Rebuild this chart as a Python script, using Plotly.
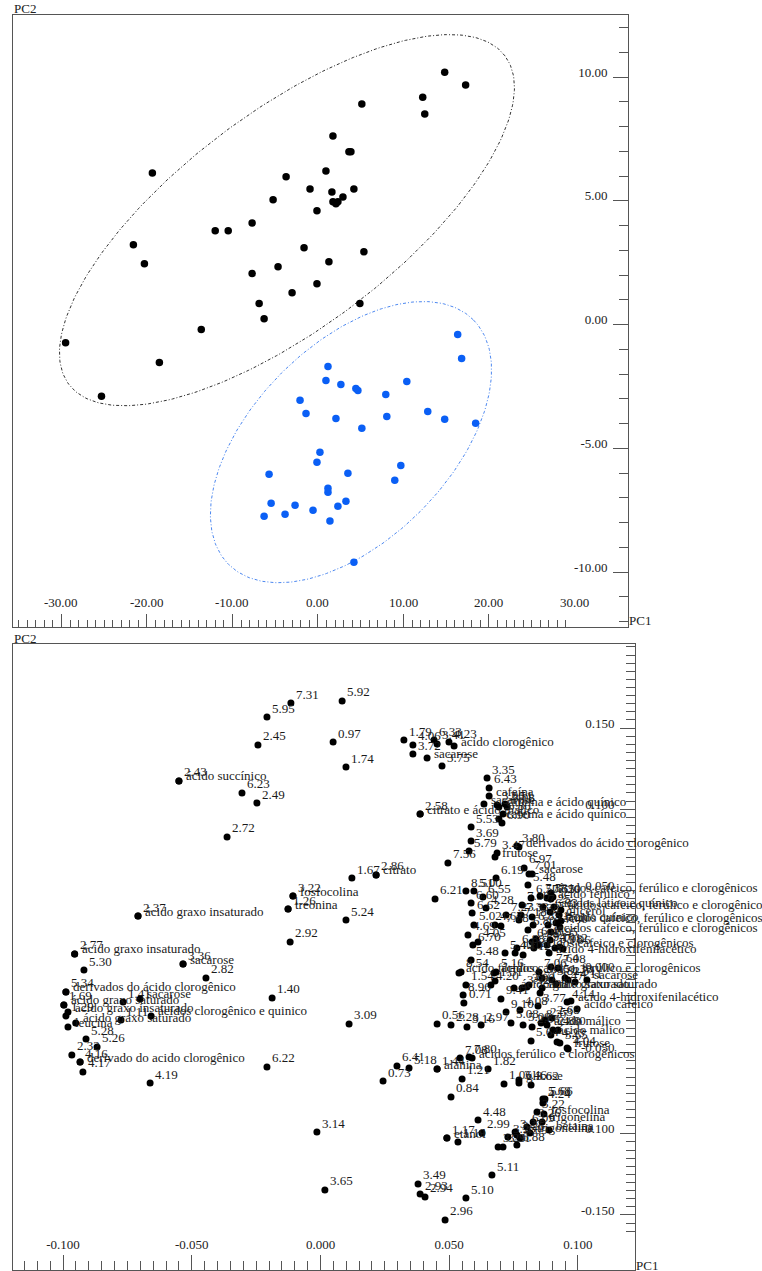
import math
import plotly.graph_objects as go

W, H = 762, 1271
FONT = "Liberation Serif, Times New Roman, serif"
AXC = "#555555"
TXT = "#222222"

# ---------------- scores plot (top) ----------------
grp1_pc1 = [14.82, 17.27, 12.25, 12.49, 5.13, 1.75, 3.62, 3.85, 0.93, -3.73,
            -0.93, 1.63, 4.20, 2.92, 1.75, 2.10, 2.33, -5.25, -0.12, -19.37,
            -7.70, -12.02, -10.50, -21.59, -20.30, -1.63, 5.37, 1.28, -7.70, -4.67,
            -0.12, -3.03, -6.88, 4.90, -6.30, -13.65, -29.52, -18.55, -25.32]
grp1_pc2 = [10.20, 9.68, 9.19, 8.51, 8.91, 7.62, 6.98, 6.98, 6.21, 5.97,
            5.48, 5.36, 5.48, 5.16, 4.96, 4.88, 4.96, 5.04, 4.60, 6.13,
            4.11, 3.79, 3.79, 3.23, 2.46, 3.10, 2.94, 2.54, 2.06, 2.34,
            1.65, 1.29, 0.85, 0.85, 0.24, -0.20, -0.73, -1.53, -2.90]
grp2_pc1 = [1.17, 0.93, 2.68, 4.43, 4.67, -2.10, -1.40, 2.10, 5.13, 0.23,
            -0.12, -5.72, 3.50, 1.17, 1.17, -5.48, 3.27, -2.68, 2.33, -0.58,
            -6.30, -3.85, 1.40, 4.20, 16.34, 16.80, 10.39, 7.93, 8.05, 12.84,
            14.82, 18.44, 9.69, 8.98]
grp2_pc2 = [-1.69, -2.26, -2.42, -2.58, -2.66, -3.06, -3.59, -3.79, -4.19, -5.16,
            -5.56, -6.05, -6.01, -6.61, -6.77, -7.22, -7.14, -7.30, -7.34, -7.50,
            -7.74, -7.66, -7.94, -9.60, -0.40, -1.37, -2.30, -2.82, -3.71, -3.51,
            -3.83, -3.99, -5.69, -6.29]

score_xticks = [-30, -20, -10, 0, 10, 20, 30]
score_xtext = ["-30.00", "-20.00", "-10.00", "0.00", "10.00", "20.00", "30.00"]
score_yticks = [-10, -5, 0, 5, 10]
score_ytext = ["-10.00", "-5.00", "0.00", "5.00", "10.00"]

# ---------------- loadings plot (bottom) ----------------
CFC = "ácidos cafeico, ferúlico e clorogênicos"

spread_x = [-0.0115, 0.0084, -0.0208, -0.0243, 0.0049, 0.0099, -0.0550, -0.0550, -0.0305, -0.0247,
            -0.0363, 0.0122, 0.0216, 0.0216, -0.0107, -0.0107, -0.0126, -0.0126, 0.0099, -0.0709,
            -0.0709, -0.0118, -0.0955, -0.0955, -0.0919, -0.0534, -0.0534, -0.0445, -0.0989, -0.0989,
            -0.0188, -0.0997, -0.0997, -0.0767, -0.0701, -0.0981, -0.0989, -0.0951, -0.0981, -0.0775,
            -0.0658, -0.0911, -0.0868, -0.0966, -0.0934, -0.0934, -0.0923, -0.0662, -0.0208, 0.0111,
            -0.0014, 0.0017]
spread_y = [0.1654, 0.1667, 0.1568, 0.1396, 0.1414, 0.1260, 0.1174, 0.1174, 0.1100, 0.1038,
            0.0829, 0.0576, 0.0595, 0.0595, 0.0465, 0.0465, 0.0385, 0.0385, 0.0317, 0.0342,
            0.0342, 0.0182, 0.0108, 0.0108, 0.0009, 0.0046, 0.0046, -0.0040, -0.0126, -0.0126,
            -0.0163, -0.0206, -0.0206, -0.0188, -0.0169, -0.0250, -0.0274, -0.0317, -0.0342, -0.0299,
            -0.0274, -0.0416, -0.0465, -0.0514, -0.0558, -0.0558, -0.0619, -0.0687, -0.0588, -0.0323,
            -0.0989, -0.1346]
spread_lbl = ["7.31", "5.92", "5.95", "2.45", "0.97", "1.74", "2.43", "ácido succínico", "6.23", "2.49",
              "2.72", "1.67", "2.86", "citrato", "3.22", "fosfocolina", "1.26", "treonina", "5.24", "2.37",
              "ácido graxo insaturado", "2.92", "2.77", "ácido graxo insaturado", "5.30", "3.36", "sacarose", "2.82", "5.34", "derivados do ácido clorogênico",
              "1.40", "1.69", "ácido graxo saturado", "1.41", "sacarose", "ácido graxo insaturado", "1.29", "ácido graxo saturado", "leucina", "1.11",
              "ácidos clorogênico e quinico", "5.28", "5.26", "2.32", "4.16", "derivado do acido clorogênico", "4.17", "4.19", "6.22", "3.09",
              "3.14", "3.65"]

upper_x = [0.0324, 0.0359, 0.0359, 0.0414, 0.0441, 0.0453, 0.0499, 0.0519, 0.0472, 0.0647,
           0.0655, 0.0655, 0.0635, 0.0693, 0.0686, 0.0717, 0.0725, 0.0387, 0.0387, 0.0709,
           0.0693, 0.0705, 0.0585, 0.0585, 0.0577, 0.0495, 0.0678, 0.0686, 0.0763, 0.0771,
           0.0791, 0.0810, 0.0822, 0.0806, 0.0682]
upper_y = [0.1426, 0.1396, 0.1340, 0.1315, 0.1426, 0.1402, 0.1414, 0.1389, 0.1266, 0.1192,
           0.1131, 0.1081, 0.1032, 0.1014, 0.1026, 0.1032, 0.1014, 0.0970, 0.0970, 0.0970,
           0.0940, 0.0915, 0.0890, 0.0804, 0.0742, 0.0669, 0.0705, 0.0730, 0.0773, 0.0767,
           0.0638, 0.0601, 0.0601, 0.0533, 0.0576]
upper_lbl = ["1.79", "4.06", "3.72", "sacarose", "6.33", "3.41", "4.23", "ácido clorogênico", "3.75", "3.35",
             "6.43", "cafeína", "sacarose", "cafeína e ácido quínico", "3.00", "2.51", "3.08", "2.58", "citrato e ácido málico", "6.86",
             "cafeína e ácido quínico", "6.90", "5.53", "3.69", "5.79", "7.56", "frutose", "3.47", "3.80", "derivados do ácido clorogênico",
             "6.97", "7.01", "sacarose", "5.48", "6.19"]

dense_x = [0.0445, 0.0565, 0.0596, 0.0631, 0.0818, 0.0585, 0.0643, 0.0721, 0.0779, 0.0596,
           0.0701, 0.0837, 0.0573, 0.0592, 0.0585, 0.0895, 0.0849, 0.0546, 0.0682, 0.0565,
           0.0662, 0.0810, 0.0915, 0.0554, 0.0557, 0.0701, 0.0845, 0.0721, 0.0740, 0.0857,
           0.0453, 0.0507, 0.0569, 0.0624, 0.0818, 0.0919, 0.0930,
           0.0895, 0.0895, 0.0907, 0.0934, 0.0927, 0.0934, 0.0915, 0.0895, 0.0829, 0.0888,
           0.0538, 0.0674, 0.1035, 0.0861, 0.0752, 0.0973, 0.0997, 0.0880, 0.0895, 0.0958,
           0.0853, 0.0880, 0.0903, 0.0783, 0.0864, 0.0892, 0.0822, 0.0771, 0.0589, 0.0678,
           0.0612, 0.0806, 0.0826, 0.0884, 0.0930, 0.0892, 0.0880, 0.0717, 0.0756, 0.0787,
           0.0763, 0.0822, 0.0845, 0.0911, 0.0930, 0.0942, 0.0783, 0.0802, 0.0853, 0.0861,
           0.0899, 0.0923, 0.0950, 0.0962, 0.0989, 0.0958, 0.0775, 0.0872, 0.0899, 0.0787,
           0.0822, 0.0903, 0.0923, 0.0962, 0.0678]
dense_y = [0.0447, 0.0496, 0.0496, 0.0459, 0.0453, 0.0422, 0.0391, 0.0348, 0.0348, 0.0287,
           0.0280, 0.0200, 0.0225, 0.0163, 0.0071, 0.0028, -0.0003, -0.0003, -0.0003, -0.0083,
           -0.0083, -0.0083, -0.0077, -0.0145, -0.0194, -0.0169, -0.0213, -0.0250, -0.0317, -0.0317,
           -0.0323, -0.0330, -0.0342, -0.0330, -0.0428, -0.0434, -0.0441,
           0.0484, 0.0447, 0.0397, 0.0379, 0.0348, 0.0311, 0.0299, 0.0243, 0.0145, 0.0114,
           -0.0009, -0.0009, -0.0052, -0.0102, -0.0102, -0.0182, -0.0231, -0.0330, -0.0391, -0.0471,
           0.0465, 0.0453, 0.0459, 0.0410, 0.0397, 0.0367, 0.0336, 0.0317, 0.0360, 0.0287,
           0.0182, 0.0256, 0.0287, 0.0287, 0.0274, 0.0194, 0.0163, 0.0114, 0.0114, 0.0102,
           0.0145, 0.0182, 0.0163, 0.0145, 0.0151, 0.0139, -0.0102, -0.0095, -0.0132, -0.0040,
           -0.0052, 0.0022, -0.0040, -0.0052, -0.0065, -0.0188, -0.0237, -0.0299, -0.0287, -0.0330,
           -0.0342, -0.0360, -0.0360, -0.0478, -0.0058]
dense_lbl = ["6.21", "8.51", "5.00", "6.55", "6.50", "6.60", "4.28", "7.23", "7.33", "5.02",
             "7.68", "6.45", "4.69", "6.70", "5.48", "7.64", "7.06", "8.54", "5.16", "1.54",
             "4.20", "2.71", "1.47", "8.96", "0.71", "9.41", "3.77", "9.10", "5.08", "8.37",
             "0.56", "2.28", "3.16", "2.97", "5.64", "4.23", "3.65",
             CFC, "ácido ferúlico", "ácidos lático e quínico", CFC, "glicerol", "ácido quínico", CFC, CFC, "ácidos cafeico e clorogênicos", "ácido 4-hidroxifenilacético",
             "ácido fórmico", CFC, "sacarose", "ácido graxo saturado", "ácido graxo saturado", "ácido 4-hidroxifenilacético", "ácido cafeico", "ácido málico", "ácido málico", "frutose",
             "7.53", "7.55", "7.20", "7.30", "7.25", "6.93", "7.38", "7.18", "6.62", "4.67",
             "4.05", "6.80", "6.85", "7.15", "7.40", "6.95", "7.10", "5.40", "4.10", "4.12",
             "6.88", "6.92", "3.94", "3.98", "7.12", "3.96", "3.92", "3.90", "3.88", "3.85",
             "3.82", "7.08", "1.33", "1.31", "4.11", "4.14", "4.08", "2.53", "2.68", "5.09",
             "2.66", "2.80", "4.30", "4.04", "1.51"]

lower_x = [0.0243, 0.0297, 0.0344, 0.0453, 0.0453, 0.0550, 0.0507, 0.0542, 0.0577, 0.0589,
           0.0651, 0.0713, 0.0771, 0.0771, 0.0818, 0.0864, 0.0872, 0.0864, 0.0868, 0.0841,
           0.0861, 0.0888, 0.0826, 0.0802, 0.0814, 0.0756, 0.0763, 0.0775, 0.0728, 0.0763,
           0.0690, 0.0709, 0.0612, 0.0627, 0.0491, 0.0491, 0.0534, 0.0666, 0.0379, 0.0387,
           0.0406, 0.0565, 0.0484]
lower_y = [-0.0675, -0.0582, -0.0595, -0.0601, -0.0601, -0.0662, -0.0773, -0.0533, -0.0527, -0.0533,
           -0.0601, -0.0693, -0.0687, -0.0669, -0.0699, -0.0786, -0.0786, -0.0810, -0.0878, -0.0866,
           -0.0927, -0.0977, -0.0927, -0.0958, -0.0995, -0.0989, -0.1007, -0.1026, -0.1020, -0.1069,
           -0.1081, -0.1081, -0.0915, -0.0995, -0.1026, -0.1026, -0.1050, -0.1254, -0.1309, -0.1371,
           -0.1389, -0.1396, -0.1531]
lower_lbl = ["0.73", "6.41", "5.18", "1.44", "alanina", "1.21", "0.84", "7.08", "7.80", "ácidos ferúlico e clorogênicos",
             "1.82", "1.06", "3.46", "glicose", "3.62", "5.68", "5.66", "4.24", "fosfocolina", "3.22",
             "trigonelina", "betaína", "3.26", "6.09", "trigonelina", "3.27", "3.25", "4.09", "3.23", "6.88",
             "3.29", "3.31", "4.48", "2.99", "1.17", "etanol", "1.19", "5.11", "3.49", "2.93",
             "2.94", "5.10", "2.96"]

load_xticks = [-0.1, -0.05, 0.0, 0.05, 0.1]
load_xtext = ["-0.100", "-0.050", "0.000", "0.050", "0.100"]
load_yticks = [-0.15, -0.1, -0.05, 0.0, 0.05, 0.1, 0.15]
load_ytext = ["-0.150", "-0.100", "-0.050", "0.000", "0.050", "0.100", "0.150"]

# ---------------- layout geometry ----------------
top_xdom = [13 / W, 628 / W]
top_ydom = [1 - 627 / H, 1 - 15 / H]
top_xr = [-35.67, 36.26]
top_yr = [-12.22, 12.51]
bot_xdom = [13 / W, 635 / W]
bot_ydom = [1 - 1270 / H, 1 - 644 / H]
bot_xr = [-0.11946, 0.12218]
bot_yr = [-0.18392, 0.20179]

px_per_x = (top_xdom[1] - top_xdom[0]) * W / (top_xr[1] - top_xr[0])
px_per_y = (top_ydom[1] - top_ydom[0]) * H / (top_yr[1] - top_yr[0])

# confidence ellipses (centre in data units, semi-axes in screen px, tilt in degrees)
ell1 = dict(cx=-3.63, cy=4.22, a=273, b=108, ang=37)
ell2 = dict(cx=3.86, cy=-4.75, a=173, b=98, ang=45)


def ellipse_path(e, n=300):
    th = math.radians(e["ang"])
    xs, ys = [], []
    for i in range(n + 1):
        t = 2 * math.pi * i / n
        u, v = e["a"] * math.cos(t), e["b"] * math.sin(t)
        xs.append(e["cx"] + (u * math.cos(th) - v * math.sin(th)) / px_per_x)
        ys.append(e["cy"] + (u * math.sin(th) + v * math.cos(th)) / px_per_y)
    return xs, ys


fig = go.Figure()

ex, ey = ellipse_path(ell1)
fig.add_trace(go.Scatter(x=ex, y=ey, mode="lines", xaxis="x", yaxis="y",
                         line=dict(color="#333333", width=1, dash="3px,2px,1px,2px"),
                         hoverinfo="skip", showlegend=False))
ex, ey = ellipse_path(ell2)
fig.add_trace(go.Scatter(x=ex, y=ey, mode="lines", xaxis="x", yaxis="y",
                         line=dict(color="#4d88f0", width=1, dash="3px,2px,1px,2px"),
                         hoverinfo="skip", showlegend=False))
fig.add_trace(go.Scatter(x=grp1_pc1, y=grp1_pc2, mode="markers", xaxis="x", yaxis="y",
                         marker=dict(color="#000000", size=7.5), showlegend=False))
fig.add_trace(go.Scatter(x=grp2_pc1, y=grp2_pc2, mode="markers", xaxis="x", yaxis="y",
                         marker=dict(color="#0a5ff5", size=7.5), showlegend=False))

all_x = spread_x + upper_x + dense_x + lower_x
all_y = spread_y + upper_y + dense_y + lower_y
all_lbl = spread_lbl + upper_lbl + dense_lbl + lower_lbl

fig.add_trace(go.Scatter(x=all_x, y=all_y, mode="markers", xaxis="x2", yaxis="y2",
                         marker=dict(color="#000000", size=7), showlegend=False))


def is_num(s):
    try:
        float(s)
        return True
    except ValueError:
        return False


annotations = []
for xv, yv, lb in zip(all_x, all_y, all_lbl):
    num = is_num(lb)
    annotations.append(dict(x=xv, y=yv, xref="x2", yref="y2", text=lb, showarrow=False,
                            xanchor="left", yanchor="middle",
                            xshift=3 if num else 5, yshift=9 if num else 5,
                            font=dict(family=FONT, size=13, color="#1a1a1a")))

# top-panel PC1 tick labels, placed just above the inside ticks
for tv, tt in zip(score_xticks, score_xtext):
    annotations.append(dict(x=tv, y=1 - 602 / H, xref="x", yref="paper", text=tt,
                            showarrow=False, xanchor="center", yanchor="middle",
                            font=dict(family=FONT, size=13, color=TXT)))

for txt, xp, yp in [("PC2", 12, 9), ("PC1", 627, 621), ("PC2", 12, 638), ("PC1", 634, 1265)]:
    annotations.append(dict(x=xp / W, y=1 - yp / H, xref="paper", yref="paper", text=txt,
                            showarrow=False, xanchor="left", yanchor="middle",
                            font=dict(family=FONT, size=13, color=TXT)))


def xaxis_cfg(dom, rng, tv, tt, anchor, major_len, minor_len, minor_dt, show_labels=True):
    return dict(domain=dom, range=rng, anchor=anchor, showgrid=False, zeroline=False,
                showline=True, linecolor=AXC, linewidth=1, mirror=True,
                ticks="inside", ticklen=major_len, tickcolor=AXC, tickwidth=1,
                tickvals=tv, ticktext=tt, ticklabelposition="inside",
                ticklabelstandoff=3, showticklabels=show_labels,
                tickfont=dict(family=FONT, size=13, color=TXT),
                minor=dict(ticks="inside", ticklen=minor_len, tickcolor=AXC, tickwidth=1,
                           dtick=minor_dt, tick0=0, showgrid=False),
                fixedrange=True)


def yaxis_cfg(dom, rng, tv, tt, anchor, major_len, minor_len, minor_dt):
    d = xaxis_cfg(dom, rng, tv, tt, anchor, major_len, minor_len, minor_dt)
    d.update(side="right", ticklabelshift=-5, ticklabelstandoff=5)
    return d


fig.update_layout(
    width=W, height=H, margin=dict(l=0, r=0, t=0, b=0),
    paper_bgcolor="white", plot_bgcolor="white",
    xaxis=xaxis_cfg(top_xdom, top_xr, score_xticks, score_xtext, "y", 13, 7, 1, show_labels=False),
    yaxis=yaxis_cfg(top_ydom, top_yr, score_yticks, score_ytext, "x", 15, 9, 1),
    xaxis2=xaxis_cfg(bot_xdom, bot_xr, load_xticks, load_xtext, "y2", 15, 9, 0.005),
    yaxis2=yaxis_cfg(bot_ydom, bot_yr, load_yticks, load_ytext, "x2", 15, 9, 0.005),
    annotations=annotations,
    font=dict(family=FONT, size=13, color=TXT),
)

fig.write_html("out.html")
